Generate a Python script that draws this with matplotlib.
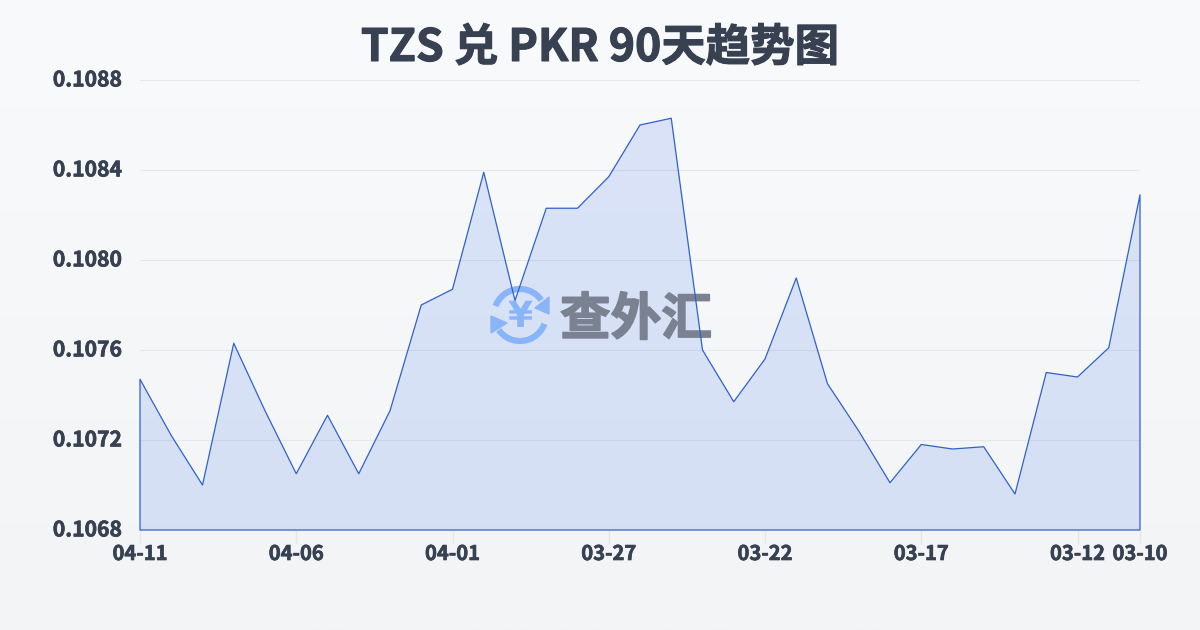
import numpy as np
import matplotlib
matplotlib.use('Agg')
import matplotlib.pyplot as plt
import matplotlib.patheffects as pe
from matplotlib.patches import Arc, Polygon
from matplotlib.transforms import Affine2D

plt.rcParams['text.hinting'] = 'no_hinting'
plt.rcParams['font.family'] = ['Noto Sans CJK SC', 'DejaVu Sans']

dates = ['04-11', '04-10', '04-09', '04-08', '04-07', '04-06', '04-05', '04-04', '04-03', '04-02', '04-01',
         '03-31', '03-30', '03-29', '03-28', '03-27', '03-26', '03-25', '03-24', '03-23', '03-22',
         '03-21', '03-20', '03-19', '03-18', '03-17', '03-16', '03-15', '03-14', '03-13', '03-12', '03-11', '03-10']
rates = [0.10747, 0.10722, 0.10700, 0.10763, 0.10733, 0.10705, 0.10731, 0.10705, 0.10733, 0.10780, 0.10787,
         0.10839, 0.10782, 0.10823, 0.10823, 0.10837, 0.10860, 0.10863, 0.10760, 0.10737, 0.10756,
         0.10792, 0.10745, 0.10724, 0.10701, 0.10718, 0.10716, 0.10717, 0.10696, 0.10750, 0.10748, 0.10761, 0.10829]
y_ticks = [0.1068, 0.1072, 0.1076, 0.1080, 0.1084, 0.1088]
shown_dates = ['04-11', '04-06', '04-01', '03-27', '03-22', '03-17', '03-12', '03-10']

title = 'TZS 兑 PKR 90天趋势图'
text_color = '#374151'
line_color = '#2f62c9'


def heavy(w, color):
    # the bold cut is a bit light compared with the target
    return [pe.withStroke(linewidth=w, foreground=color)]


fig = plt.figure(figsize=(12, 6.3), dpi=100)

# background gradient
bg = fig.add_axes([0, 0, 1, 1], zorder=0)
bg.imshow(np.linspace(0, 1, 256).reshape(-1, 1), aspect='auto', extent=[0, 1, 0, 1],
          cmap=matplotlib.colors.LinearSegmentedColormap.from_list('bg', ['#f9fafc', '#f3f4f6']))
bg.axis('off')

ax = fig.add_axes([140 / 1200, 1 - 530 / 630, 1000 / 1200, 450 / 630], zorder=1)
ax.patch.set_alpha(0)
x = np.arange(len(dates))
ax.set_xlim(0, len(dates) - 1)
ax.set_ylim(y_ticks[0], y_ticks[-1])

for s in ax.spines.values():
    s.set_visible(False)
ax.set_yticks(y_ticks, [f'{v:.4f}' for v in y_ticks], fontsize=15.2, fontweight='bold', color=text_color)
ax.set_xticks([dates.index(d) for d in shown_dates], shown_dates, fontsize=14.5, fontweight='bold', color=text_color)
for t in ax.get_xticklabels() + ax.get_yticklabels():
    t.set_path_effects(heavy(0.5, text_color))
ax.tick_params(axis='y', length=0, pad=13)
ax.tick_params(axis='x', length=10, width=1, color='#e2e5ea', pad=0)
# y labels sit two pixels above their grid lines
for t in ax.get_yticklabels():
    t.set_transform(t.get_transform() + Affine2D().translate(0, 2))
ax.grid(axis='y', color='#e5e7eb', lw=0.8)
ax.set_axisbelow(True)

ax.fill_between(x, rates, y_ticks[0], facecolor='#2563eb', alpha=0.14, lw=0, zorder=2)

# watermark, in pixels from the top left
px = Affine2D().scale(1, -1).translate(0, 630)
icon_blue = '#8ab4f8'
ax.add_patch(Arc((520, 315), 52, 52, theta1=200, theta2=325, color=icon_blue, lw=4.5, transform=px, zorder=3, clip_on=False))
ax.add_patch(Arc((520, 315), 52, 52, theta1=20, theta2=145, color=icon_blue, lw=4.5, transform=px, zorder=3, clip_on=False))
ax.add_patch(Polygon([(549, 297), (549, 314), (535, 308)], color=icon_blue, transform=px, zorder=3, clip_on=False))
ax.add_patch(Polygon([(491, 316), (507, 323), (491, 333)], color=icon_blue, transform=px, zorder=3, clip_on=False))
ax.text(520, 317, '¥', transform=px, color=icon_blue, fontsize=26, fontweight='bold', ha='center', va='center',
        family='DejaVu Sans', zorder=3)
ax.text(636, 320, '查外汇', transform=px, color='#7a8191', fontsize=36.5, fontweight='bold', ha='center', va='center', zorder=3,
        path_effects=heavy(1.2, '#7a8191'))

ax.fill_between(x, rates, y_ticks[0], facecolor='none', edgecolor=line_color, lw=0.9, zorder=4, clip_on=False)

fig.text(0.5, 1 - 48 / 630, title, ha='center', va='center', fontsize=32, fontweight='bold', color=text_color, zorder=5,
         path_effects=heavy(0.8, text_color))

fig.savefig('out.png', dpi=100)
